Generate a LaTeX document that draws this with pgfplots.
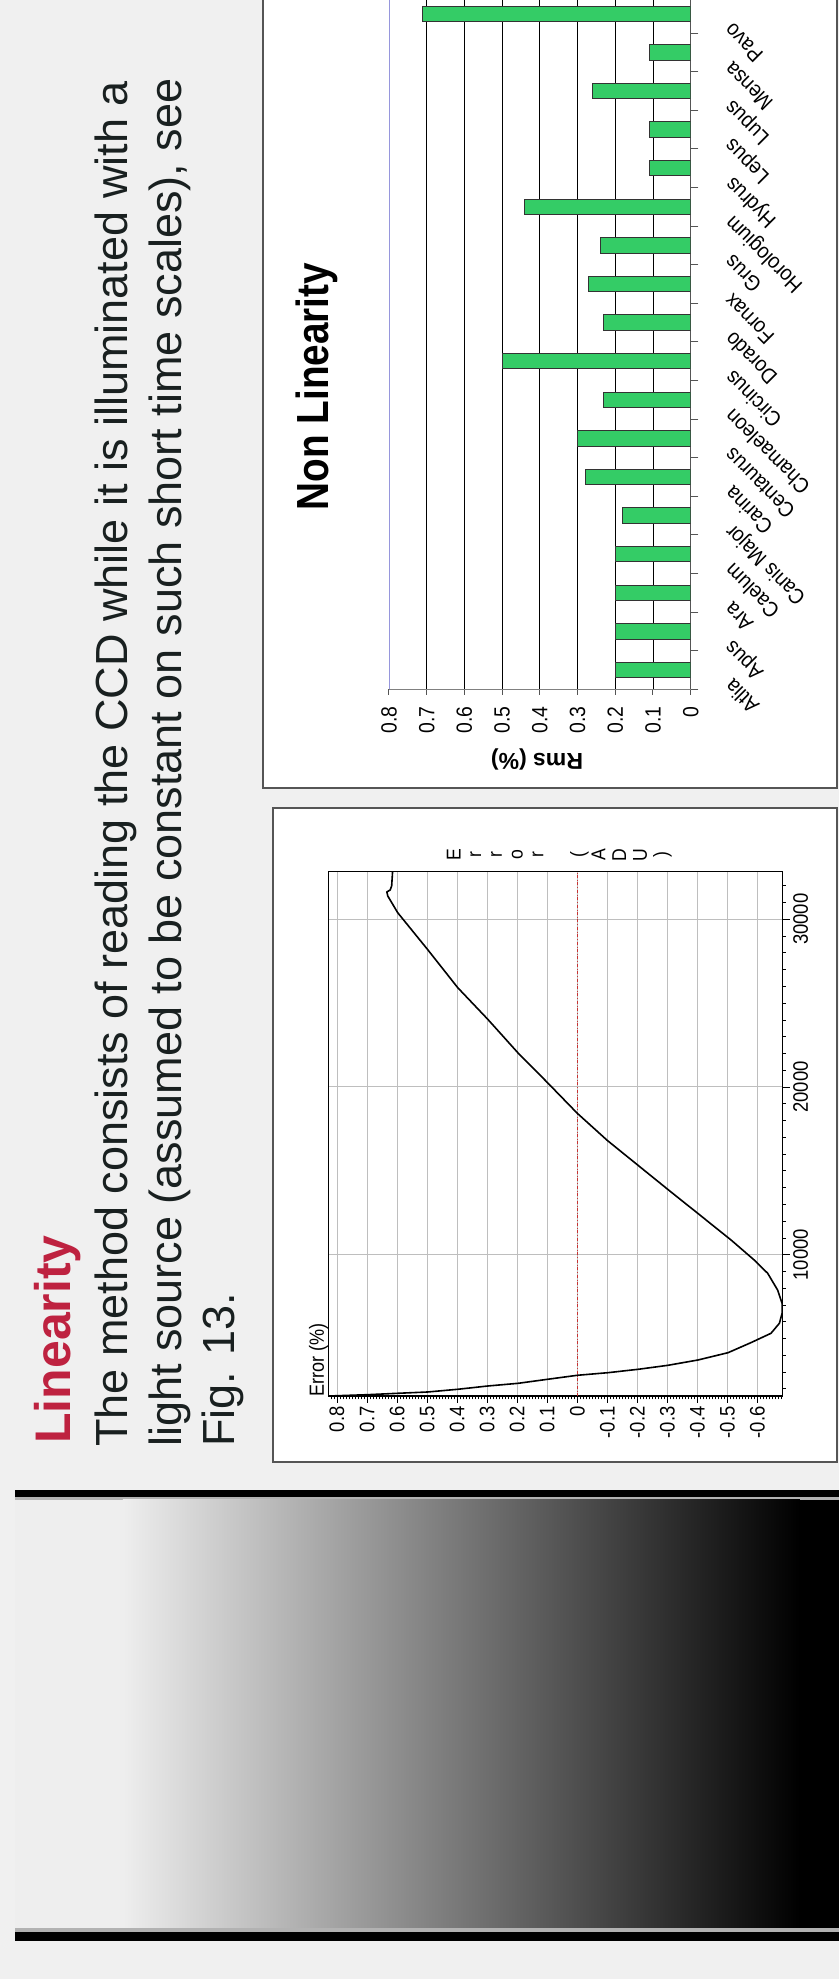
\documentclass[border=0pt]{standalone}
\usepackage{pgfplots}
\usepackage{pgfplotstable}
\pgfplotsset{compat=1.18}
\usepackage{fontspec}
\setmainfont{Liberation Sans}
\newfontfamily\chartfont[FakeStretch=0.88]{Liberation Sans}
\newfontfamily\labelfont[FakeStretch=0.9]{Liberation Sans}
\newfontfamily\titlefont[FakeStretch=0.86]{Liberation Sans}
\definecolor{slidebg}{RGB}{240,240,240}
\definecolor{stripwhite}{RGB}{238,238,238}
\definecolor{crimson}{RGB}{190,34,64}
\definecolor{bodytext}{RGB}{25,32,32}
\definecolor{bargreen}{RGB}{52,204,102}
\definecolor{gridgray}{RGB}{190,190,190}
\definecolor{lavender}{RGB}{150,150,220}
\definecolor{boxgray}{RGB}{85,85,85}
\definecolor{zeroline}{RGB}{200,50,50}

\pgfplotstableread{
adu err
1574 0.826
1652 0.698
1735 0.598
1813 0.498
1974 0.398
2170 0.298
2330 0.197
2570 0.099
2808 0.000
2964 -0.102
3166 -0.203
3404 -0.302
3721 -0.402
4156 -0.502
4753 -0.578
5313 -0.645
5909 -0.673
6506 -0.682
7102 -0.682
7895 -0.667
8891 -0.634
9684 -0.589
10877 -0.512
12469 -0.401
13900 -0.301
15349 -0.201
16798 -0.101
18432 0.000
20256 0.099
22045 0.198
24037 0.298
25921 0.398
28211 0.499
30394 0.598
31390 0.631
31629 0.634
31748 0.623
31987 0.618
32838 0.615
}\errdata

\pgfplotstableread{
k rms
1 0.20
2 0.20
3 0.20
4 0.20
5 0.18
6 0.28
7 0.30
8 0.23
9 0.50
10 0.23
11 0.27
12 0.24
13 0.44
14 0.11
15 0.11
16 0.26
17 0.11
18 0.71
}\rmsdata

\begin{document}
\begin{tikzpicture}[x=1pt,y=1pt]
\useasboundingbox (-839,0) rectangle (0,1979);
\begin{scope}[transform canvas={rotate=90}]
\clip (0,0) rectangle (1979,839);
\fill[slidebg] (0,0) rectangle (1979,839);
% film strip with gradient
\fill[black] (38,0) rectangle (47,824);
\fill[gray!60] (47,0) rectangle (51,824);
\fill[gray!60] (479,0) rectangle (482,824);
\fill[black] (482,0) rectangle (489,824);
\fill[black] (51,0) rectangle (479,39);
\shade[top color=stripwhite, bottom color=black] (51,39) rectangle (479,716);
\fill[stripwhite] (51,716) rectangle (479,824);
% title and body text
\node[anchor=base west, inner sep=0pt, text=crimson, font=\bfseries\fontsize{50}{60}\selectfont] at (535,768) {Linearity};
\node[anchor=base west, inner sep=0pt, text=bodytext, font=\fontsize{45}{54}\selectfont] at (532,711) {The method consists of reading the CCD while it is illuminated with a};
\node[anchor=base west, inner sep=0pt, text=bodytext, font=\fontsize{45}{54}\selectfont] at (532,657) {light source (assumed to be constant on such short time scales), see};
\node[anchor=base west, inner sep=0pt, text=bodytext, font=\fontsize{45}{54}\selectfont] at (532,604) {Fig. 13.};
% chart boxes
\draw[boxgray, line width=2pt, fill=white] (517,2) rectangle (1171,566);
\draw[boxgray, line width=2pt, fill=white] (1191,2) rectangle (1995,576);

% ---------- error curve ----------
\begin{scope}[shift={(583,56.3)}]
\begin{axis}[
  at={(0pt,0pt)}, anchor=south west, scale only axis,
  width=524.3pt, height=454.4pt,
  xmin=1574, xmax=32838, ymin=-0.684, ymax=0.829,
  axis line style={black, line width=1.3pt},
  xtick={10000,20000,30000},
  minor xtick={2000,3000,...,32000},
  ytick={-0.6,-0.5,-0.4,-0.3,-0.2,-0.1,0,0.1,0.2,0.3,0.4,0.5,0.6,0.7,0.8},
  minor ytick={-0.68,-0.67,...,0.82},
  tick pos=left, tick align=outside,
  major tick length=7pt, minor tick length=3.3pt,
  every tick/.append style={black, line width=0.8pt},
  grid=major, major grid style={gridgray, line width=1pt},
  scaled x ticks=false, scaled y ticks=false,
  /pgf/number format/1000 sep={},
  /pgf/number format/assume math mode=true,
  ticklabel style={font=\chartfont\fontsize{21}{21}\selectfont, text=black},
]
\addplot[zeroline, dash dot, line width=1.2pt] coordinates {(1574,0) (32838,0)};
\addplot[black, line width=1.6pt] table[x=adu, y=err] {\errdata};
\end{axis}
\end{scope}
\node[anchor=base west, inner sep=0pt, font=\chartfont\fontsize{20.5}{20.5}\selectfont] at (582,515) {Error (\%)};
\node[align=center, inner sep=0pt, font=\chartfont\fontsize{20}{20.7}\selectfont] at (1124,279.8) {E\\r\\r\\o\\r\\\mbox{}\\(\\A\\D\\U\\)};

% ---------- bar chart ----------
\begin{scope}[shift={(1289.7,148.3)}]
\begin{axis}[
  at={(0pt,0pt)}, anchor=south west, scale only axis,
  width=694.8pt, height=301.7pt,
  xmin=0.5, xmax=18.5, ymin=0, ymax=0.8,
  ybar, bar width=15.3pt,
  axis x line*=bottom, axis y line*=left,
  x axis line style={-, draw=boxgray, line width=1.2pt},
  y axis line style={-, draw=gray, line width=1pt},
  xtick={1,...,18},
  xticklabels={Atlia,Apus,Ara,Caelum,Canis Major,Carina,Centaurus,Chamaeleon,Circinus,Dorado,Fornax,Grus,Horologium,Hydrus,Lepus,Lupus,Mensa,Pavo},
  minor xtick={0.5,1.5,...,18.5},
  major x tick style={draw=none},
  ytick={0,0.1,0.2,0.3,0.4,0.5,0.6,0.7},
  extra y ticks={0.8},
  extra y tick style={ymajorgrids=true, major grid style={lavender, line width=0.8pt}},
  tick pos=left, tick align=outside,
  major tick length=5.7pt, minor tick length=7.7pt,
  every tick/.append style={boxgray, line width=1pt},
  ymajorgrids, major grid style={black, line width=0.9pt},
  /pgf/number format/assume math mode=true,
  yticklabel style={font=\chartfont\fontsize{22}{22}\selectfont, text=black, xshift=-8pt},
  xticklabel style={font=\labelfont\fontsize{21.5}{21.5}\selectfont, text=black, inner sep=0pt, anchor=north east, xshift=-19pt, yshift=-26pt, rotate=45},
]
\addplot[fill=bargreen, draw=black!80, line width=1pt] table[x=k, y=rms] {\rmsdata};
\end{axis}
\end{scope}
\node[rotate=90, inner sep=0pt, font=\bfseries\fontsize{23}{23}\selectfont] at (1220,302) {Rms (\%)};
\node[anchor=base, inner sep=0pt, font=\titlefont\bfseries\fontsize{45}{45}\selectfont] at (1592.5,510) {Non Linearity};
\end{scope}
\end{tikzpicture}
\end{document}
